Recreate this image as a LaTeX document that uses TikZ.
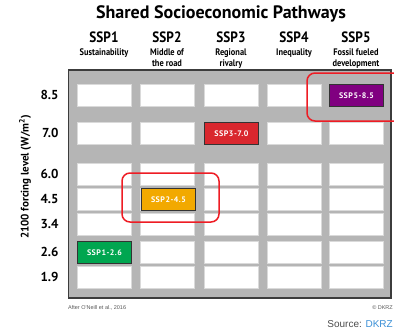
\documentclass[tikz,border=0pt]{standalone}
\usepackage{fontspec}
\setmainfont{PT Sans}
\newfontfamily\condfont[FakeStretch=0.88]{PT Sans}
\newfontfamily\tagfont[LetterSpace=6]{PT Sans}
\newfontfamily\arialfont{Liberation Sans}
\definecolor{panelgray}{HTML}{B5B5B5}
\definecolor{panelline}{HTML}{3C3C3C}
\definecolor{cellline}{HTML}{DADADA}
\definecolor{sspgreen}{HTML}{00A650}
\definecolor{ssporange}{HTML}{F2A900}
\definecolor{sspred}{HTML}{D9272E}
\definecolor{ssppurple}{HTML}{800080}
\definecolor{hlred}{HTML}{EE1C24}
\definecolor{linkblue}{HTML}{3A8FD6}
\tikzset{
  x=1pt, y=-1pt,
  panel/.style={fill=panelgray, draw=panelline, line width=1.3pt},
  cell/.style={draw=cellline, fill=white, line width=0.6pt, minimum width=54pt,
    minimum height=21.5pt, inner sep=0pt, anchor=north west},
  ssp/.style={cell, draw=black!80, line width=0.9pt, fill=#1, text=white,
    font=\tagfont\bfseries\fontsize{8}{9}\selectfont},
  hl/.style={draw=hlred, line width=1.5pt, rounded corners=8pt},
  title/.style={font=\bfseries\fontsize{18}{20}\selectfont},
  colhead/.style={font=\condfont\bfseries\fontsize{15}{16}\selectfont},
  colsub/.style={font=\condfont\bfseries\fontsize{9.5}{11}\selectfont, align=center, anchor=north},
  level/.style={font=\bfseries\fontsize{13}{14}\selectfont, anchor=east},
  axistitle/.style={font=\bfseries\fontsize{11}{12}\selectfont, rotate=90},
  credit/.style={font=\arialfont\fontsize{5.5}{6}\selectfont, text=black!65, inner sep=0pt},
}
\begin{document}
\begin{tikzpicture}
\useasboundingbox (0,0) rectangle (394,332);

% title and column headings
\node[title] (title) at (221,14) {Shared Socioeconomic Pathways};
\foreach \c/\x in {1/104,2/167,3/231,4/294,5/356} {
  \node[colhead] (h\c) at (\x,37) {SSP\c};
}
\node[colsub] (s1) at (104,45) {Sustainability};
\node[colsub] (s2) at (167,45) {Middle of\\the road};
\node[colsub] (s3) at (231,45) {Regional\\rivalry};
\node[colsub] (s4) at (294,45) {Inequality};
\node[colsub] (s5) at (356,45) {Fossil fueled\\development};

% grey panel with the grid of empty cells
\draw[panel] (68.5,70) rectangle (391,298);
\foreach \c/\x in {1/77,2/140,3/204,4/267,5/329} {
  \foreach \r/\y in {1/84,2/122,3/163,4/188,5/213,6/241,7/266} {
    \node[cell] (c\c-\r) at (\x,\y) {};
  }
}

% forcing levels
\foreach \r/\y/\v in {1/95/8.5,2/133/7.0,3/174/6.0,4/199/4.5,5/224/3.4,6/252/2.6,7/277/1.9} {
  \node[level] (l\r) at (62,\y) {\v};
}
\node[axistitle] (axis) at (25,177) {2100 forcing level (W/m\textsuperscript{2})};

% scenario cells
\node[ssp=sspgreen] (p126) at (77,241) {SSP1-2.6};
\node[ssp=ssporange] (p245) at (141,188) {SSP2-4.5};
\node[ssp=sspred] (p370) at (204,122) {SSP3-7.0};
\node[ssp=ssppurple] (p585) at (329,84) {SSP5-8.5};

% highlight frames
\draw[hl] (307,73) rectangle (420,121);
\draw[hl] (122,173) rectangle (219,222);

% credits
\node[credit, anchor=west] (after) at (68,308) {After O'Neill et al., 2016};
\node[credit, anchor=east] (copy) at (393,308) {\textcopyright{} DKRZ};
\node[font=\arialfont\fontsize{10}{12}\selectfont, anchor=east, inner sep=0pt] (src)
  at (393,324) {\textcolor{black!70}{Source:} \textcolor{linkblue}{DKRZ}};
\end{tikzpicture}
\end{document}
